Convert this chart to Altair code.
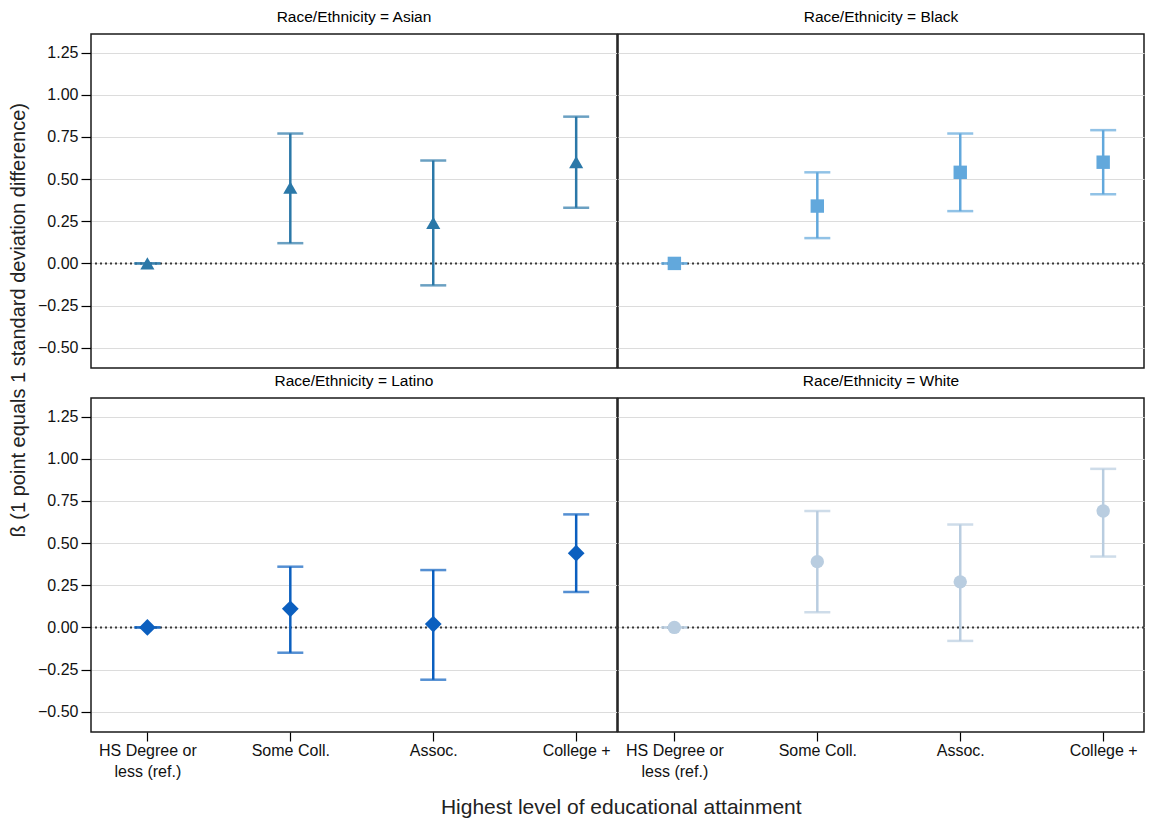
import altair as alt
import pandas as pd

# ---------------- data ----------------
levels = ["HS Degree or less (ref.)", "Some Coll.", "Assoc.", "College +"]

asian_est = [0.00, 0.45, 0.24, 0.60]
asian_low = [0.00, 0.12, -0.13, 0.33]
asian_high = [0.00, 0.77, 0.61, 0.87]

black_est = [0.00, 0.34, 0.54, 0.60]
black_low = [0.00, 0.15, 0.31, 0.41]
black_high = [0.00, 0.54, 0.77, 0.79]

latino_est = [0.00, 0.11, 0.02, 0.44]
latino_low = [0.00, -0.15, -0.31, 0.21]
latino_high = [0.00, 0.36, 0.34, 0.67]

white_est = [0.00, 0.39, 0.27, 0.69]
white_low = [0.00, 0.09, -0.08, 0.42]
white_high = [0.00, 0.69, 0.61, 0.94]

y_ticks = [-0.5, -0.25, 0.0, 0.25, 0.5, 0.75, 1.0, 1.25]

Y_TITLE = "ß (1 point equals 1 standard deviation difference)"
X_TITLE = "Highest level of educational attainment"

FONT = "Liberation Sans"
Y_DOMAIN = [-0.62, 1.36]
PW, PH = 526, 334

LABEL_EXPR = ("datum.value == 'HS Degree or less (ref.)' ? "
              "['HS Degree or', 'less (ref.)'] : datum.label")


def panel(name, est, low, high, color, shape, size, left, bottom):
    df = pd.DataFrame({"level": levels, "est": est, "low": low, "high": high})
    yscale = alt.Scale(domain=Y_DOMAIN, nice=False, zero=False)
    xscale = alt.Scale(type="point", domain=levels, padding=0.34, align=0.58)
    if left:
        yaxis = alt.Axis(values=y_ticks, format=".2f", title=None, grid=True,
                         ticks=True, labels=True, tickSize=10, labelPadding=3)
    else:
        yaxis = alt.Axis(values=y_ticks, title=None, grid=True,
                         ticks=False, labels=False, labelPadding=0,
                         tickSize=0, minExtent=0, maxExtent=0)
    if bottom:
        xaxis = alt.Axis(title=None, labelAngle=0, labelExpr=LABEL_EXPR,
                         tickSize=9, labelPadding=1, grid=False,
                         labelLineHeight=21)
        x = alt.X("level:N", scale=xscale, axis=xaxis)
    else:
        x = alt.X("level:N", scale=xscale, axis=None)

    base = alt.Chart(df)
    zero = alt.Chart(pd.DataFrame({"zero": [0.0]})).mark_rule(
        color="#3a3a3a", strokeDash=[2, 3], strokeWidth=2
    ).encode(y=alt.Y("zero:Q", scale=yscale, axis=yaxis))
    bars = base.mark_rule(color=color, strokeWidth=2.5).encode(
        x=x, y=alt.Y("low:Q", scale=yscale, axis=yaxis), y2="high:Q")
    cap_lo = base.mark_tick(color=color, size=26, thickness=2.5).encode(
        x=x, y=alt.Y("low:Q", scale=yscale, axis=yaxis))
    cap_hi = base.mark_tick(color=color, size=26, thickness=2.5).encode(
        x=x, y=alt.Y("high:Q", scale=yscale, axis=yaxis))
    pts = base.mark_point(filled=True, opacity=1, shape=shape, size=size,
                          color=color).encode(
        x=x, y=alt.Y("est:Q", scale=yscale, axis=yaxis))
    return alt.layer(zero, bars, cap_lo, cap_hi, pts).properties(
        width=PW, height=PH,
        title=alt.TitleParams(f"Race/Ethnicity = {name}", fontSize=15.5,
                              fontWeight="normal", font=FONT, color="black",
                              anchor="middle", offset=9))


a = panel("Asian", asian_est, asian_low, asian_high, "#2b78a8", "triangle-up", 200, True, False)
b = panel("Black", black_est, black_low, black_high, "#62a8dc", "square", 180, False, False)
c = panel("Latino", latino_est, latino_low, latino_high, "#0b5fbf", "diamond", 280, True, True)
d = panel("White", white_est, white_low, white_high, "#b9cde0", "circle", 180, False, True)

row1 = alt.hconcat(a, b, spacing=1, bounds="flush")
row2 = alt.hconcat(c, d, spacing=1, bounds="flush")

inner = alt.vconcat(
    row1, row2, spacing=3,
    title=alt.TitleParams(Y_TITLE, orient="left", anchor="middle", fontSize=20,
                          fontWeight="normal", font=FONT, color="#222222",
                          dx=74, offset=8))

chart = alt.vconcat(
    inner, padding=0,
    title=alt.TitleParams(X_TITLE, orient="bottom", anchor="middle", fontSize=21,
                          fontWeight="normal", font=FONT, color="#222222",
                          dx=44, offset=17)
).configure_view(
    stroke="#1a1a1a", strokeWidth=1.5
).configure_axis(
    labelFont=FONT, labelFontSize=16, labelColor="#111111",
    tickColor="black", tickWidth=1.2, gridColor="#dcdcdc", gridWidth=1,
    domain=False
)

chart.save("out.html", embed_options={"renderer": "svg", "actions": False})
